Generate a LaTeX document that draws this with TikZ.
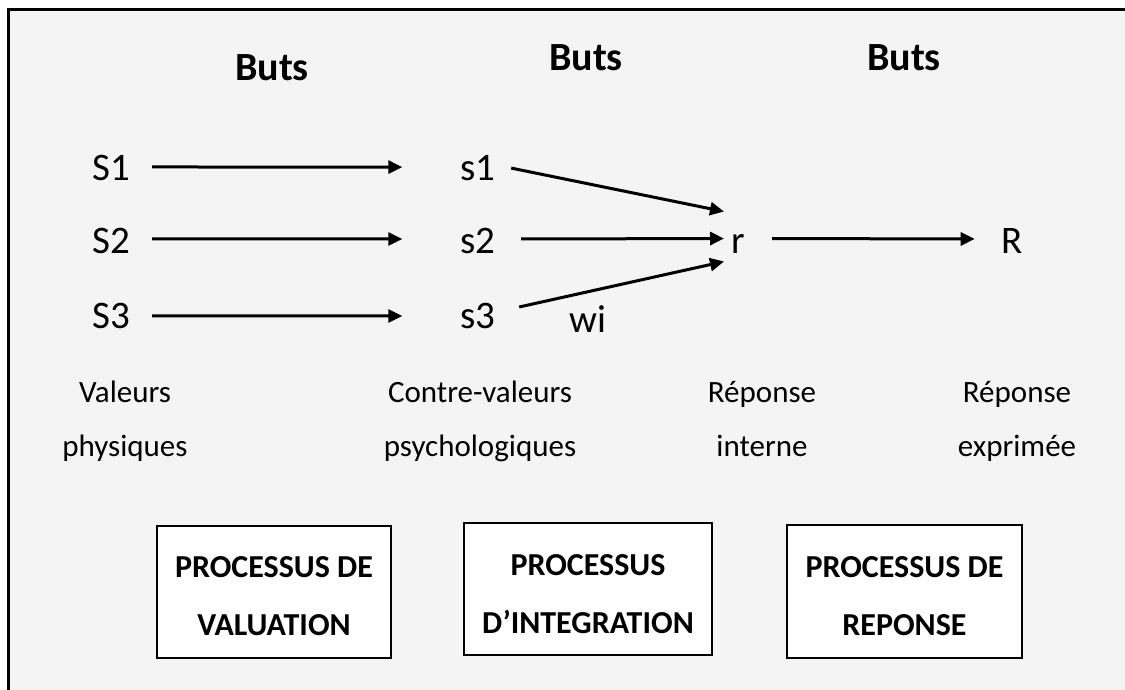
\documentclass[tikz,border=0pt]{standalone}
\usepackage{fontspec}
\setmainfont{Carlito}
\usetikzlibrary{arrows.meta}
\definecolor{bg}{HTML}{F4F4F4}
\begin{document}
\begin{tikzpicture}[x=1pt,y=-1pt,
  lbl/.style={inner sep=0pt, anchor=base, font=\fontsize{39}{44}\selectfont},
  head/.style={inner sep=0pt, font=\fontsize{40}{44}\selectfont\bfseries},
  captxt/.style={inner sep=0pt, anchor=base, font=\fontsize{31}{34}\selectfont},
  arr/.style={line width=3pt, -{Triangle[length=14pt,width=13pt]}},
  pframe/.style={draw, line width=2pt, fill=white, inner sep=0pt},
  ptext/.style={align=center, inner sep=0pt, font=\fontsize{32}{58}\selectfont\bfseries}]
\useasboundingbox (0,0) rectangle (1125,690);
\fill[white] (0,0) rectangle (1125,690);
\fill[bg] (8,10) rectangle (1125,690);
\draw[line width=3pt] (8,700) -- (8,10) -- (1130,10);

\node[head] (b1) at (272,68) {Buts};
\node[head] (b2) at (586,58) {Buts};
\node[head] (b3) at (904,58) {Buts};

\node[lbl] (S1) at (111,181) {S1};
\node[lbl] (S2) at (111,253) {S2};
\node[lbl] (S3) at (111,328) {S3};
\node[lbl] (s1) at (478,181) {s1};
\node[lbl] (s2) at (478,253) {s2};
\node[lbl] (s3) at (478,328) {s3};
\node[lbl] (r) at (738,253) {r};
\node[lbl] (R) at (1012,253) {R};
\node[lbl] (wi) at (588,332) {wi};

\draw[arr] ([xshift=22pt,yshift=1.5pt]S1.east) -- ([xshift=-58pt,yshift=1.5pt]s1.west);
\draw[arr] ([xshift=22pt,yshift=1.5pt]S2.east) -- ([xshift=-58pt,yshift=1.5pt]s2.west);
\draw[arr] ([xshift=22pt,yshift=-0.5pt]S3.east) -- ([xshift=-58pt,yshift=-0.5pt]s3.west);
\draw[arr] ([xshift=15.5pt,yshift=0.5pt]s1.east) -- ([xshift=-7pt,yshift=32pt]r.west);
\draw[arr] ([xshift=25.5pt,yshift=1.5pt]s2.east) -- ([xshift=-7pt,yshift=5pt]r.west);
\draw[arr] ([xshift=23.5pt,yshift=8.5pt]s3.east) -- ([xshift=-7pt,yshift=-18pt]r.west);
\draw[arr] ([xshift=27pt,yshift=5pt]r.east) -- ([xshift=-26.5pt,yshift=1.5pt]R.west);

\node[captxt] (v1) at (125,402) {Valeurs};
\node[captxt] (v2) at (125,456) {physiques};
\node[captxt] (c1) at (480,402) {Contre-valeurs};
\node[captxt] (c2) at (480,456) {psychologiques};
\node[captxt] (i1) at (762,402) {Réponse};
\node[captxt] (i2) at (762,456) {interne};
\node[captxt] (e1) at (1017,402) {Réponse};
\node[captxt] (e2) at (1017,456) {exprimée};

\node[pframe, minimum width=234pt, minimum height=132pt] (p1) at (274,592) {};
\node[pframe, minimum width=248pt, minimum height=132pt] (p2) at (588,589) {};
\node[pframe, minimum width=235pt, minimum height=133pt] (p3) at (904.5,591.5) {};
\node[ptext] (p1t) at ([yshift=-4pt]p1.center) {PROCESSUS DE\\VALUATION};
\node[ptext] (p2t) at ([yshift=-5pt]p2.center) {PROCESSUS\\D’INTEGRATION};
\node[ptext] (p3t) at ([yshift=-4.5pt]p3.center) {PROCESSUS DE\\REPONSE};
\end{tikzpicture}
\end{document}
